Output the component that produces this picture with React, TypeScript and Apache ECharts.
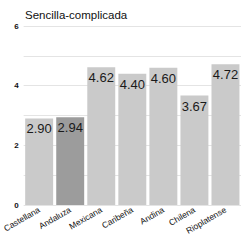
import React, { useEffect, useRef } from "react";
import * as echarts from "echarts";

const categories = ["Castellana", "Andaluza", "Mexicana", "Caribeña", "Andina", "Chilena", "Rioplatense"];
const values = [2.9, 2.94, 4.62, 4.4, 4.6, 3.67, 4.72];
const highlight = "Andaluza";

export default function App() {
  const ref = useRef<HTMLDivElement>(null);
  useEffect(() => {
    const chart = echarts.init(ref.current!, null, { renderer: "svg" });
    chart.setOption({
      animation: false,
      backgroundColor: "#ffffff",
      title: {
        text: "Sencilla-complicada",
        left: 20,
        top: 4,
        textStyle: { fontSize: 11.5, fontWeight: "normal", color: "#111", fontFamily: "Liberation Sans" },
      },
      grid: { left: 17, right: 1, top: 26, bottom: 37 },
      xAxis: {
        type: "category",
        data: categories,
        axisLine: { show: false },
        axisTick: { show: false },
        axisLabel: { rotate: 30, fontSize: 8.5, color: "#111", margin: 4, interval: 0, fontFamily: "Liberation Sans" },
      },
      yAxis: {
        type: "value",
        min: 0,
        max: 6,
        interval: 1,
        axisLabel: {
          fontSize: 8,
          color: "#111",
          fontWeight: "bold",
          margin: 5,
          fontFamily: "Liberation Sans",
          formatter: (v: number) => (v % 2 === 0 ? String(v) : ""),
        },
        splitLine: { lineStyle: { color: "#e4e4e4", width: 1 } },
      },
      series: [
        {
          type: "bar",
          data: categories.map((c, i) => ({
            value: values[i],
            itemStyle: { color: c === highlight ? "#9c9c9c" : "#cacaca" },
          })),
          barCategoryGap: "10%",
          label: {
            show: true,
            position: "insideTop",
            distance: 4,
            fontSize: 13,
            color: "#1a1a1a",
            fontFamily: "Liberation Sans",
            formatter: (p: any) => p.value.toFixed(2),
          },
        },
      ],
    });
    return () => chart.dispose();
  }, []);
  return <div ref={ref} style={{ width: 242, height: 242, position: "absolute", left: 0, top: 0 }} />;
}
